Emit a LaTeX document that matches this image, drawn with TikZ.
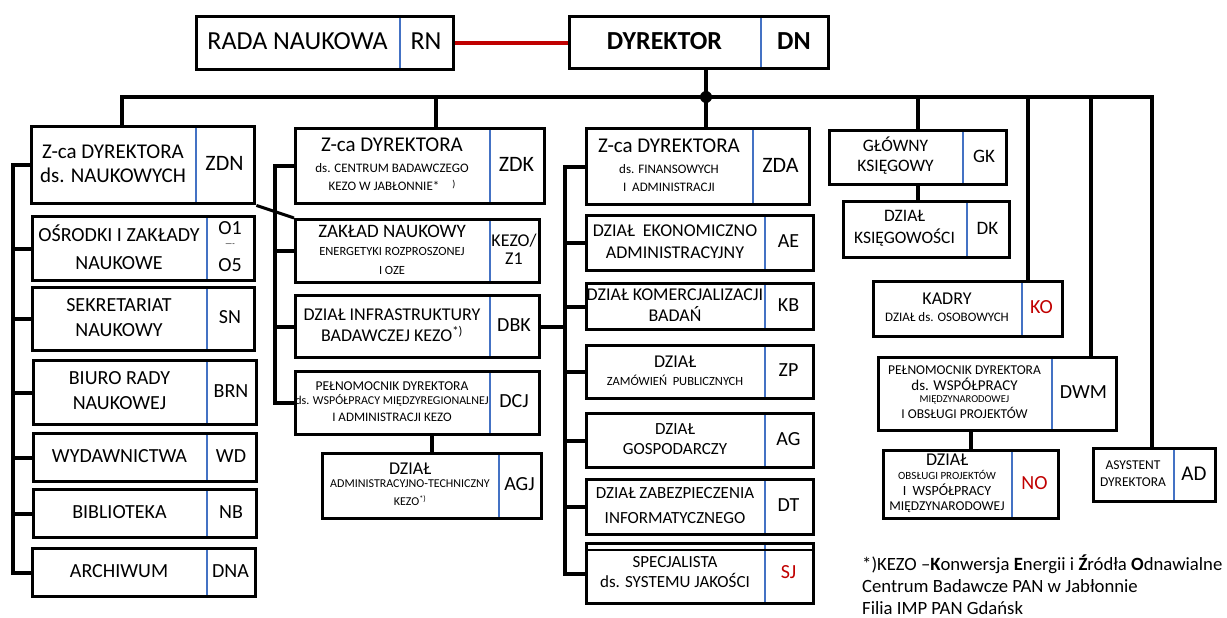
\documentclass[tikz,border=0pt]{standalone}
\usepackage{fontspec}
\setmainfont{Carlito}
\usetikzlibrary{positioning,calc}
\definecolor{dblue}{RGB}{68,114,196}
\definecolor{dred}{RGB}{192,0,0}
\newcommand{\fs}[1]{\fontsize{#1}{#1}\selectfont}
\tikzstyle{unitframe} = [rectangle, draw=black, line width=3.4pt, inner sep=0pt, anchor=north west]
\tikzstyle{unittext} = [align=center, inner sep=0pt, font=\fs{20}]
\tikzstyle{unitcode} = [align=center, inner sep=0pt, font=\fs{20}]
\tikzstyle{divider} = [draw=dblue, line width=1.4pt]
\tikzstyle{wire} = [line width=4pt]
\tikzstyle{redline} = [draw=dred, line width=4pt]
% box with blue divider: name, left, top, divider, right, bottom, text, code
\newcommand{\orgunit}[8]{
  \draw[divider] (#4,#3) -- (#4,#6);
  \node (#1)[unitframe, minimum width=#5-#2, minimum height=#6-#3] at (#2,#3) {};
  \node (#1t)[unittext] at ({(#2+#4)/2},{(#3+#6)/2}) {#7};
  \node (#1c)[unitcode] at ({(#4+#5)/2},{(#3+#6)/2}) {#8};
}
\begin{document}
\begin{tikzpicture}[x=1pt,y=-1pt]
  \useasboundingbox (0,0) rectangle (1227,618);
  % top
  \orgunit{rn}{195}{15}{400}{452}{68}{\fs{26}RADA NAUKOWA}{\fs{26}RN}
  \orgunit{dn}{568}{15}{761}{827}{67}{\fs{26}\bfseries DYREKTOR}{\fs{26}\bfseries DN}
  % deputies
  \orgunit{zdn}{30}{125}{196}{253}{202}{\fs{21}Z-ca DYREKTORA\\[4pt]\fs{21}ds. NAUKOWYCH}{\fs{22}ZDN}
  \orgunit{zdk}{294}{127}{490}{543}{202}{\fs{21}Z-ca DYREKTORA\\[1pt]\fs{13}ds. CENTRUM BADAWCZEGO\\[-2pt]\fs{13}KEZO W JABŁONNIE*\quad\raisebox{3pt}{\fs{10})}}{\fs{22}ZDK}
  \orgunit{zda}{585}{127}{753}{808}{203}{\fs{21}Z-ca DYREKTORA\\[1pt]\fs{13}ds. FINANSOWYCH\\[-2pt]\fs{13}I~~ADMINISTRACJI}{\fs{22}ZDA}
  \orgunit{gk}{828}{129}{963}{1005}{183}{\fs{17.5}GŁÓWNY\\\fs{17.5}KSIĘGOWY}{\fs{19}GK}
  \orgunit{dk}{842}{200}{967}{1008}{256}{\fs{17.5}DZIAŁ\\[2pt]\fs{17.5}KSIĘGOWOŚCI}{\fs{19}DK}
  % scientific column
  \orgunit{osr}{31}{215}{207}{253}{279}{OŚRODKI I ZAKŁADY\\[8pt]NAUKOWE}{O1\\[-8pt]\fs{8}----\\[5pt]O5}
  \orgunit{sek}{31}{286}{207}{253}{349}{SEKRETARIAT\\[5pt]NAUKOWY}{SN}
  \orgunit{brn}{32}{359}{207}{255}{423}{BIURO RADY\\[5pt]NAUKOWEJ}{BRN}
  \orgunit{wyd}{32}{432}{207}{255}{480}{WYDAWNICTWA}{WD}
  \orgunit{bib}{32}{488}{207}{255}{536}{BIBLIOTEKA}{NB}
  \orgunit{arc}{31}{547}{207}{254}{595}{ARCHIWUM}{DNA}
  % KEZO column
  \orgunit{zak}{294}{218}{490}{538}{281}{\fs{19}ZAKŁAD NAUKOWY\\[-2pt]\fs{12.5}ENERGETYKI ROZPROSZONEJ\\[-1pt]\fs{12.5}I OZE}{\fs{18}KEZO/\\[-2pt]\fs{18}Z1}
  \orgunit{dbk}{294}{294}{490}{538}{356}{\fs{18}DZIAŁ INFRASTRUKTURY\\[1pt]\fs{18}BADAWCZEJ KEZO\textsuperscript{*)}}{DBK}
  \orgunit{dcj}{294}{370}{490}{538}{433}{\fs{13.5}PEŁNOMOCNIK DYREKTORA\\[-6pt]\fs{12}ds. WSPÓŁPRACY MIĘDZYREGIONALNEJ\\[-3pt]\fs{13}I ADMINISTRACJI KEZO}{DCJ}
  \orgunit{agj}{321}{452}{499}{540}{517}{\fs{18}DZIAŁ\\[-7pt]\fs{12}ADMINISTRACYJNO-TECHNICZNY\\[-2pt]\fs{12}KEZO\textsuperscript{*)}}{AGJ}
  % administration column
  \orgunit{ae}{585}{214}{765}{812}{269}{\fs{18}DZIAŁ~~EKONOMICZNO\\[2pt]\fs{18}ADMINISTRACYJNY}{AE}
  \orgunit{kb}{585}{282}{765}{812}{328}{\fs{18}DZIAŁ KOMERCJALIZACJI\\[1pt]\fs{18}BADAŃ}{KB}
  \orgunit{zp}{585}{344}{765}{812}{397}{\fs{18}DZIAŁ\\[-2pt]\fs{12.5}ZAMÓWIEŃ~~PUBLICZNYCH}{ZP}
  \orgunit{ag}{585}{412}{765}{812}{466}{\fs{17}DZIAŁ\\\fs{17}GOSPODARCZY}{AG}
  \orgunit{dt}{585}{478}{765}{812}{533}{\fs{17}DZIAŁ ZABEZPIECZENIA\\[5pt]\fs{17}INFORMATYCZNEGO}{DT}
  \orgunit{sj}{585}{542}{765}{812}{602}{\fs{17}SPECJALISTA\\\fs{17}ds. SYSTEMU JAKOŚCI}{\color{dred}SJ}
  \draw[line width=2pt] ([yshift=-8pt]sj.north west) -- ([yshift=-8pt]sj.north east);
  % right side
  \orgunit{ko}{872}{280}{1022}{1061}{335}{\fs{18}KADRY\\[-3pt]\fs{13}DZIAŁ ds. OSOBOWYCH}{\color{dred}KO}
  \orgunit{dwm}{877}{356}{1052}{1115}{429}{\fs{13.5}PEŁNOMOCNIK DYREKTORA\\[-4pt]\fs{15}ds. WSPÓŁPRACY\\[-8pt]\fs{10.5}MIĘDZYNARODOWEJ\\[-4pt]\fs{13.5}I OBSŁUGI PROJEKTÓW}{DWM}
  \orgunit{no}{882}{449}{1012}{1057}{517}{\fs{18}DZIAŁ\\[-6pt]\fs{11}OBSŁUGI PROJEKTÓW\\[-4pt]\fs{14}I~~WSPÓŁPRACY\\[-5pt]\fs{13.5}MIĘDZYNARODOWEJ}{\color{dred}NO}
  \orgunit{ad}{1092}{447}{1174}{1214}{500}{\fs{13.5}ASYSTENT\\[-3pt]\fs{13.5}DYREKTORA}{\fs{21}AD}
  % bus and taps
  \coordinate (tzdn) at (122,97);
  \coordinate (tzdk) at (436,97);
  \coordinate (j) at (706,97);
  \coordinate (tgk) at (918,97);
  \coordinate (tko) at (1028,97);
  \coordinate (tdwm) at (1091,97);
  \coordinate (tad) at (1152,97);
  \coordinate (spn) at (13,0);
  \coordinate (spk) at (275,0);
  \coordinate (spa) at (565,0);
  \draw [redline] (rn.east) -- (rn.east -| dn.west);
  \draw [wire] (zdn.north -| tzdn) -- (tzdn) -- (tad) -- (tad |- ad.north);
  \draw [wire] (j |- dn.south) -- (j |- zda.north);
  \fill (j) circle (6);
  \foreach \t/\n in {tzdk/zdk, tgk/gk, tko/ko, tdwm/dwm}
    \draw [wire] (\t) -- (\t |- \n.north);
  % spines
  \draw [wire] (zdn.west) -| (spn |- arc.west) -- (arc.west);
  \foreach \n in {osr,sek,brn,wyd,bib}
    \draw [wire] (spn |- \n.west) -- (\n.west);
  \draw [wire] (zdk.west) -| (spk |- dcj.west) -- (dcj.west);
  \foreach \n in {zak,dbk}
    \draw [wire] (spk |- \n.west) -- (\n.west);
  \draw [wire] (zda.west) -| (spa |- sj.west) -- (sj.west);
  \foreach \n in {ae,kb,zp,ag,dt}
    \draw [wire] (spa |- \n.west) -- (\n.west);
  \draw [wire] (dbk.east) -- (spa |- dbk.east);
  \draw [wire, line width=3pt] (zdn.south east) -- (zak.north west);
  \draw [wire] (agj.north) -- (agj.north |- dcj.south);
  \draw [wire] (gk.south) -- (gk.south |- dk.north);
  \draw [wire] (no.north) -- (no.north |- dwm.south);
  % footnote
  \node (note)[anchor=north west, align=left, inner sep=0pt, font=\fs{18.7}] at (862,555)
    {*)KEZO --\textbf{K}onwersja \textbf{E}nergii i \textbf{Ź}ródła \textbf{O}dnawialne\\[3pt]
     Centrum Badawcze PAN w Jabłonnie\\[3pt]
     Filia IMP PAN Gdańsk};
\end{tikzpicture}
\end{document}
